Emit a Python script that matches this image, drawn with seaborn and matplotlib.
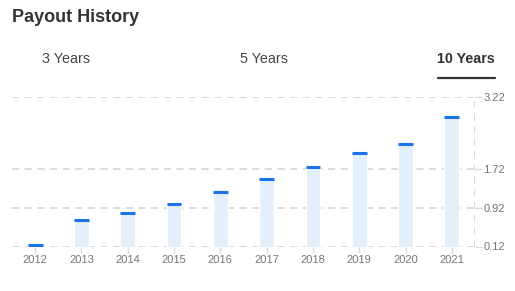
import matplotlib
matplotlib.use("Agg")
import matplotlib.pyplot as plt
import seaborn as sns
import pandas as pd
import numpy as np

years = ["2012", "2013", "2014", "2015", "2016", "2017", "2018", "2019", "2020", "2021"]
payouts = [0.15, 0.67, 0.81, 1.01, 1.25, 1.52, 1.77, 2.06, 2.25, 2.80]
y_ticks = [0.12, 0.92, 1.72, 3.22]
tabs = ["3 Years", "5 Years", "10 Years"]

sns.set_style("white")
plt.rcParams['font.family'] = ['Liberation Sans', 'DejaVu Sans']

df = pd.DataFrame({"year": years, "payout": payouts})

fig = plt.figure(figsize=(5.15, 2.91), dpi=100)
ax = fig.add_axes([12/515, 1-246.5/291, (475-12)/515, (246.5-97)/291])

bw = 0.32
sns.barplot(data=df, x="year", y="payout", color="#e3effb", width=bw,
            saturation=1, ax=ax, zorder=2)
xs = np.arange(len(years))
ax.hlines(payouts, xs - bw/2, xs + bw/2, color="#1a73e8", linewidth=2.2, zorder=3)

ax.set_ylim(y_ticks[0], y_ticks[-1])
ax.set_xlim(-0.5, len(years) - 0.5)
ax.set_yticks(y_ticks)
ax.set_yticklabels([f"{v:.2f}" for v in y_ticks])
ax.yaxis.tick_right()
ax.set_xlabel("")
ax.set_ylabel("")

for v in y_ticks:
    ax.axhline(v, color="#d9d9d9", linewidth=1.3, linestyle=(0, (4, 3)), zorder=1)
ax.axvline(len(years) - 0.5, color="#d9d9d9", linewidth=1.3, linestyle=(0, (4, 3)), zorder=1)

for s in ax.spines.values():
    s.set_visible(False)

ax.tick_params(axis="y", which="both", right=True, length=5, width=1, color="#d9d9d9",
               labelsize=8, labelcolor="#757575", pad=1)
ax.tick_params(axis="x", which="both", bottom=True, length=4, width=1, color="#d9d9d9",
               labelsize=8, labelcolor="#757575", pad=2)

fig.text(12/515, 1-17/291, "Payout History", fontsize=13, fontweight="bold",
         color="#333333", ha="left", va="center")

tab_x = [66, 264, 466]
for i, (t, x) in enumerate(zip(tabs, tab_x)):
    bold = i == len(tabs) - 1
    fig.text(x/515, 1-59/291, t, fontsize=10.3, fontweight="bold" if bold else "normal",
             color="#333333" if bold else "#444444", ha="center", va="center")
fig.add_artist(plt.Line2D([438/515, 495/515], [1-78/291, 1-78/291],
                          color="#333333", linewidth=1.6, transform=fig.transFigure))

fig.savefig("out.png", dpi=100)
